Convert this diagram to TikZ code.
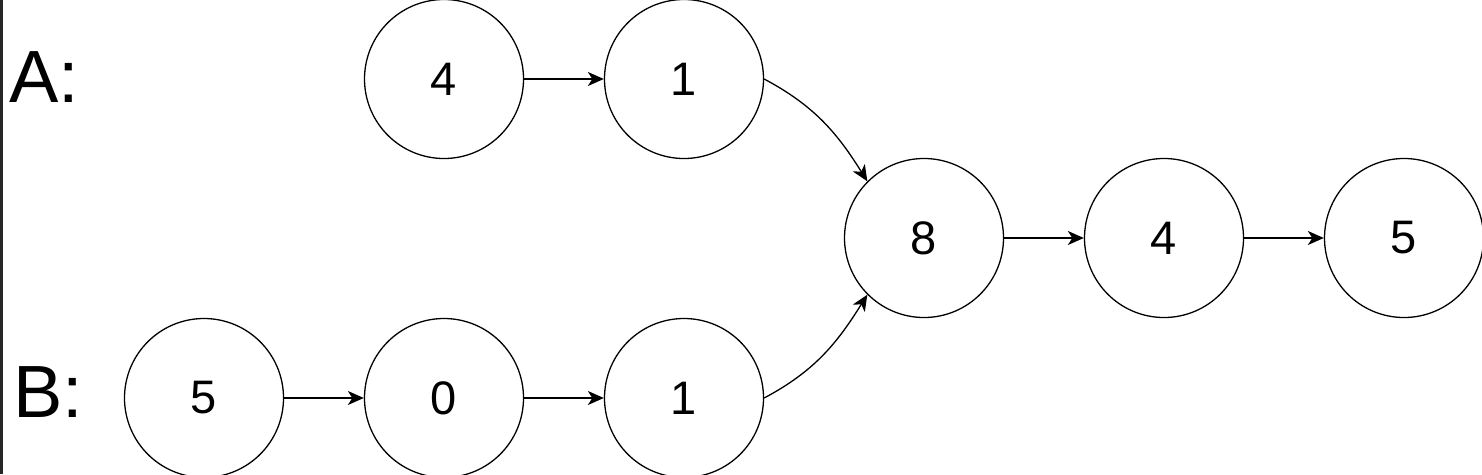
\documentclass[tikz,border=0pt]{standalone}
\usepackage{fontspec}
\setmainfont{Liberation Sans}
\usetikzlibrary{arrows.meta}
\begin{document}
\begin{tikzpicture}[x=1pt,y=-1pt,
  nd/.style={circle,draw=black,line width=1.3pt,minimum size=159pt,inner sep=0pt,font=\fontsize{47}{47}\selectfont},
  lbl/.style={inner sep=0pt,font=\fontsize{74}{74}\selectfont},
  conn/.style={line width=1.3pt,-{Stealth[length=16pt,width=14pt,inset=4.5pt]}}]
\useasboundingbox (0,0) rectangle (1482,474);
\fill[black!85] (0,0) rectangle (2.5,474);
\node[lbl,anchor=west] (la) at (9,77) {A:};
\node[lbl,anchor=west] (lb) at (13,392) {B:};
\node[nd] (a4) at (444,79) {4};
\node[nd] (a1) at (684,79) {1};
\node[nd] (m8) at (924,238) {8};
\node[nd] (m4) at (1164,238) {4};
\node[nd] (m5) at (1404,238) {5};
\node[nd] (b5) at (204,398) {5};
\node[nd] (b0) at (444,398) {0};
\node[nd] (b1) at (684,398) {1};
\draw[conn] (a4) -- (a1);
\draw[conn] (m8) -- (m4);
\draw[conn] (m4) -- (m5);
\draw[conn] (b5) -- (b0);
\draw[conn] (b0) -- (b1);
\draw[conn] (a1.east) to[out=-28,in=122] (m8.135);
\draw[conn] (b1.east) to[out=28,in=-122] (m8.225);
\end{tikzpicture}
\end{document}
